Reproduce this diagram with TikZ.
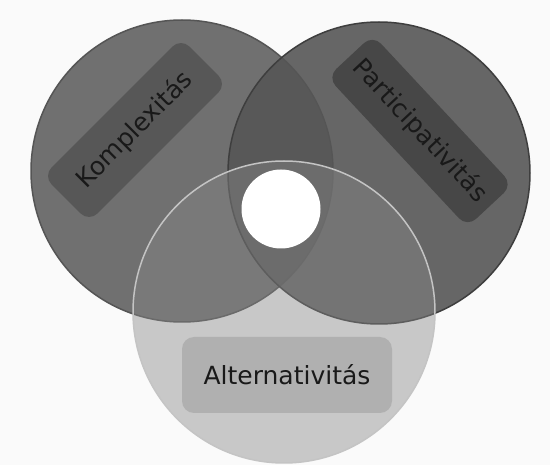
\documentclass[tikz,border=0pt]{standalone}
\usepackage{fontspec}
\setmainfont{DejaVu Sans}
\usepackage{tikz}
\definecolor{bgcol}{HTML}{FAFAFA}
\definecolor{kfill}{HTML}{707070}
\definecolor{kedge}{HTML}{555555}
\definecolor{pfill}{HTML}{565656}
\definecolor{pedge}{HTML}{3E3E3E}
\definecolor{afill}{HTML}{878787}
\definecolor{aedge}{HTML}{C4C4C4}
\definecolor{kbox}{HTML}{575757}
\definecolor{pbox}{HTML}{474747}
\definecolor{abox}{HTML}{B0B0B0}
\tikzset{
	ring/.style     = {draw, circle, inner sep=0pt, minimum size=302pt, line width=1.5pt},
	kring/.style    = {ring, fill=kfill, draw=kedge},
	pring/.style    = {ring, fill=pfill, fill opacity=0.9, draw=pedge},
	aring/.style    = {ring, fill=afill, fill opacity=0.43, draw=aedge},
	tagbox/.style   = {rectangle, rounded corners=12pt, inner sep=0pt,
		text=black!90, font=\fontsize{25}{30}\selectfont},
	hole/.style     = {circle, fill=white, inner sep=0pt, minimum size=79pt}
}

\begin{document}
\begin{tikzpicture}[x=1pt, y=-1pt]
	\useasboundingbox (0,0) rectangle (550,465);
	\fill[bgcol] (0,0) rectangle (550,465);
	\draw
	node at (182,171) [kring] (kc) {}
	node at (379,173) [pring] (pc) {}
	node at (135,130) [tagbox, fill=kbox, rotate=45,
		minimum width=195pt, minimum height=65pt] (kb) {Komplexitás}
	node at (420,131) [tagbox, fill=pbox, rotate=-47,
		minimum width=205pt, minimum height=62pt] (pb) {Participativitás}
	node at (284,312) [aring] (ac) {}
	node at (281,209) [hole] (h) {}
	node at (287,375) [tagbox, fill=abox,
		minimum width=210pt, minimum height=76pt] (ab) {Alternativitás}
	;
\end{tikzpicture}
\end{document}
